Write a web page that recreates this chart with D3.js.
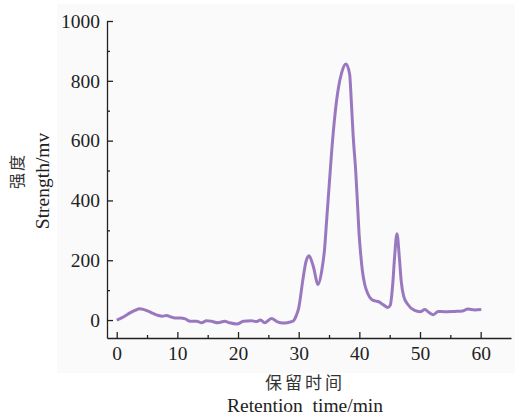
<!DOCTYPE html>
<html>
<head>
<meta charset="utf-8">
<script src="https://cdn.jsdelivr.net/npm/d3@7"></script>
<style>
  body { margin: 0; background: #fff; }
  svg { display: block; }
</style>
</head>
<body>
<svg id="chart" width="515" height="417"></svg>
<script>
// retention time (min) and detector signal (mv)
const times = [0, 0.8, 1.5, 2.2, 3.0, 3.8, 4.5, 5.2, 6.0, 6.9, 7.5, 8.2, 9.0, 9.6, 10.5, 11.3,
  12.1, 13.2, 14.0, 14.8, 15.6, 16.7, 17.8, 18.6, 19.8, 20.9, 22.2, 23.0, 23.7, 24.4, 25.5,
  26.5, 27.4, 28.3, 29.1, 29.6, 30.0, 30.7, 31.2, 31.7, 32.4, 33.2, 33.8, 34.3, 34.6, 35.0,
  35.4, 36.0, 36.5, 37.1, 37.8, 38.4, 38.7, 39.0, 39.4, 39.7, 39.95, 40.2, 40.5, 40.9, 41.4,
  42.0, 42.6, 43.1, 43.9, 44.7, 45.1, 45.5, 45.8, 46.2, 46.6, 46.9, 47.3, 48.0, 49.1, 50.0,
  50.8, 51.5, 52.2, 53.0, 54.0, 55.7, 57.0, 57.9, 59.0, 60.1];
const strength = [0, 7, 15, 24, 32, 38, 35, 30, 22, 15, 13, 15, 10, 7, 7, 4,
  -4, -4, -9, -2, -4, -9, -4, -9, -13, -4, -2, -5, 0, -9, 5,
  -6, -10, -8, -3, 15, 40, 136, 195, 215, 180, 119, 165, 245, 331, 443,
  554, 690, 770, 828, 856, 822, 722, 610, 498, 387, 290, 225, 165, 118, 88,
  69, 64, 62, 52, 42, 50, 119, 208, 289, 208, 130, 80, 52, 32, 28,
  35, 25, 18, 29, 28, 29, 30, 37, 34, 35];
const xTicks = [0, 10, 20, 30, 40, 50, 60];
const yTicks = [0, 200, 400, 600, 800, 1000];

const margin = { top: 21, right: 4, bottom: 79, left: 107 };
const W = 515, H = 417;
const width = W - margin.left - margin.right;
const height = H - margin.top - margin.bottom;

const svg = d3.select("#chart");
const font = "'Liberation Serif', 'Times New Roman', serif";

// light panel behind the plot
svg.append("rect")
  .attr("x", 57).attr("y", 4)
  .attr("width", W - 57).attr("height", 369)
  .attr("fill", "#fafafa");

const xScale = d3.scaleLinear().domain([-1.6, 65]).range([0, width]);
const yScale = d3.scaleLinear().domain([-60, 1000]).range([height, 0]);

const g = svg.append("g")
  .attr("transform", `translate(${margin.left},${margin.top})`);

// minor ticks
g.append("g")
  .attr("transform", `translate(0,${height})`)
  .call(d3.axisBottom(xScale).tickValues(d3.range(5, 65, 10)).tickSize(-3).tickFormat(""))
  .call(s => s.select(".domain").remove());
g.append("g")
  .call(d3.axisLeft(yScale).tickValues(d3.range(100, 1000, 200)).tickSize(-3).tickFormat(""))
  .call(s => s.select(".domain").remove());

// main axes
const xAxisG = g.append("g")
  .attr("transform", `translate(0,${height})`)
  .call(d3.axisBottom(xScale).tickValues(xTicks).tickFormat(d3.format("d"))
    .tickSizeInner(-6).tickSizeOuter(0).tickPadding(8));
const yAxisG = g.append("g")
  .call(d3.axisLeft(yScale).tickValues(yTicks).tickFormat(d3.format("d"))
    .tickSizeInner(-6).tickSizeOuter(0).tickPadding(7));

[xAxisG, yAxisG].forEach(a => {
  a.attr("font-family", null).attr("font-size", null);
  a.selectAll("text").style("font-family", font).style("font-size", "19.5px").attr("fill", "#222");
  a.selectAll("line, path").attr("stroke", "#222").attr("stroke-width", 1.3);
});
g.selectAll(".tick line").attr("stroke", "#222").attr("stroke-width", 1.3);

// chromatogram trace
const line = d3.line()
  .x((d, i) => xScale(times[i]))
  .y(d => yScale(d))
  .curve(d3.curveMonotoneX);

g.append("path")
  .datum(strength)
  .attr("fill", "none")
  .attr("stroke", "#9a78c0")
  .attr("stroke-width", 3)
  .attr("stroke-linejoin", "round")
  .attr("d", line);

// axis titles
svg.append("text")
  .attr("x", 305).attr("y", 389)
  .attr("text-anchor", "middle")
  .attr("font-family", "'Noto Sans CJK SC', sans-serif")
  .attr("font-size", 17).attr("letter-spacing", 3)
  .attr("fill", "#333")
  .text("保留时间");
svg.append("text")
  .attr("x", 305).attr("y", 412)
  .attr("text-anchor", "middle")
  .attr("font-family", font)
  .attr("font-size", 19.5).attr("fill", "#222")
  .attr("xml:space", "preserve")
  .text("Retention  time/min");

svg.append("text")
  .attr("transform", "translate(23,171) rotate(-90)")
  .attr("text-anchor", "middle")
  .attr("font-family", "'Noto Sans CJK SC', sans-serif")
  .attr("font-size", 16).attr("letter-spacing", 2)
  .attr("fill", "#333")
  .text("强度");
svg.append("text")
  .attr("transform", "translate(49,181) rotate(-90)")
  .attr("text-anchor", "middle")
  .attr("font-family", font)
  .attr("font-size", 19.5).attr("fill", "#222")
  .text("Strength/mv");
</script>
</body>
</html>
